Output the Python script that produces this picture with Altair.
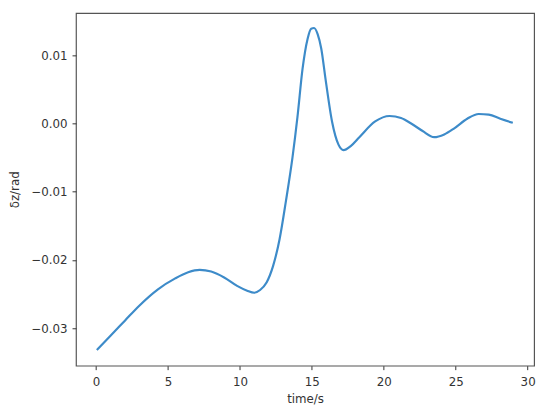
import altair as alt
import pandas as pd

time_s = [0.05, 1.0, 2.0, 3.0, 4.3, 5.5, 6.4, 7.2, 8.0, 8.9, 9.8, 10.5, 11.0, 11.4, 11.85, 12.3, 12.75, 13.2, 13.65, 14.0, 14.35, 14.7, 14.95, 15.15, 15.4, 15.65, 15.95, 16.4, 16.85, 17.2, 17.7, 18.3, 19.4, 20.4, 21.2, 21.9, 22.7, 23.5, 24.2, 24.9, 25.8, 26.6, 27.3, 28.1, 28.97]
dz_rad = [-0.0332, -0.0311, -0.0289, -0.0267, -0.0243, -0.0227, -0.0218, -0.02145, -0.0217, -0.02256, -0.0238, -0.0245, -0.0248, -0.0244, -0.0233, -0.0209, -0.0170, -0.0113, -0.0050, 0.0010, 0.0080, 0.0124, 0.0139, 0.0140, 0.0131, 0.0110, 0.0065, 0.0003, -0.0031, -0.0039, -0.0033, -0.0020, 0.0003, 0.0011, 0.0008, 0.0000, -0.0011, -0.0020, -0.0016, -0.0007, 0.0007, 0.0014, 0.0013, 0.0007, 0.0001]

df = pd.DataFrame({"t": time_s, "dz": dz_rad})

font = "DejaVu Sans"
chart = alt.Chart(df).mark_line(color="#3d8bc9", strokeWidth=2.2, interpolate="monotone").encode(
    x=alt.X("t:Q", title="time/s",
            scale=alt.Scale(domain=[-1.4, 30.45], nice=False, zero=False),
            axis=alt.Axis(values=[0, 5, 10, 15, 20, 25, 30], format="d", grid=False, domain=False,
                          tickColor="#333", tickSize=4, labelPadding=7, labelFontSize=12,
                          labelColor="#333", titleFontSize=12, titleColor="#333",
                          titleFontWeight="normal", titlePadding=6, labelFont=font, titleFont=font)),
    y=alt.Y("dz:Q", title="δz/rad",
            scale=alt.Scale(domain=[-0.0355, 0.0162], nice=False, zero=False),
            axis=alt.Axis(values=[-0.03, -0.02, -0.01, 0.0, 0.01], format=".2f", grid=False, domain=False,
                          tickColor="#333", tickSize=4, labelPadding=5, labelFontSize=12,
                          labelColor="#333", titleFontSize=12, titleColor="#333",
                          titleFontWeight="normal", titlePadding=10, labelFont=font, titleFont=font)),
).properties(
    width=465, height=358,
    autosize=alt.AutoSizeParams(type="none"),
    padding={"left": 69, "top": 2, "right": 8, "bottom": 50},
).configure(
    background="white",
    view=alt.ViewConfig(stroke="#555", strokeWidth=1.2),
)

chart.save("out.html", embed_options={"renderer": "svg", "actions": False})
